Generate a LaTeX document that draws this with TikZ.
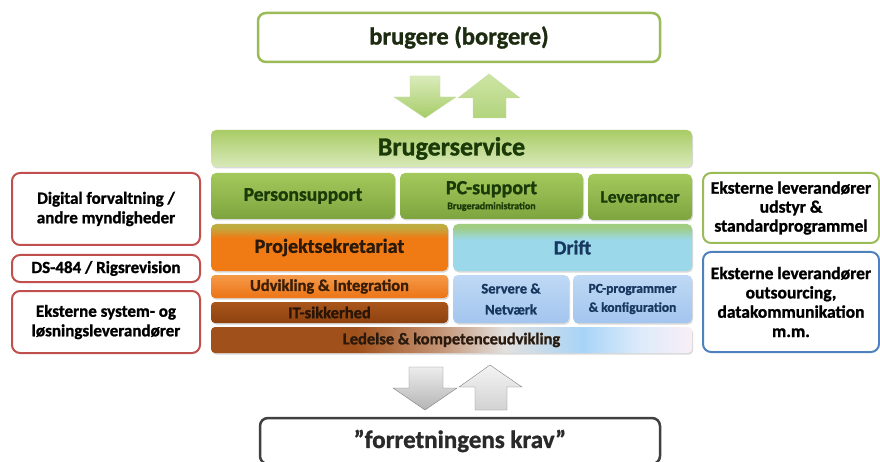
\documentclass[tikz,border=0pt]{standalone}
\usepackage{fontspec}
\setmainfont{Carlito}[BoldFeatures={FakeBold=1.2}]
\usetikzlibrary{shadows}
\definecolor{gborder}{HTML}{9BBB59}
\definecolor{gtxt}{HTML}{1A3A08}
\definecolor{orangeC}{HTML}{F07A14}
\definecolor{greenC}{HTML}{A3C95C}
\definecolor{greenD}{HTML}{7EA43F}
\definecolor{driftC}{HTML}{9AD8EA}
\definecolor{brownC}{HTML}{A0501A}
\definecolor{tanC}{HTML}{C39273}
\definecolor{greyW}{HTML}{E2E0DE}
\definecolor{ledblue}{HTML}{A8D4F8}
\definecolor{ledblue2}{HTML}{DDEBFA}
\definecolor{ledpink}{HTML}{F8EEF8}
\definecolor{navy}{HTML}{17375E}
\definecolor{redB}{HTML}{C0504D}
\definecolor{blueB}{HTML}{4F81BD}
\definecolor{darkB}{HTML}{404040}
\definecolor{topTxt}{HTML}{1D2B10}
\definecolor{kravTxt}{HTML}{2A2A2A}
\definecolor{arrGB}{HTML}{C3DDA0}
\definecolor{arrG1}{HTML}{DAEBBB}
\definecolor{arrG2}{HTML}{A6CC68}
\definecolor{arrG3}{HTML}{CDE5A4}
\definecolor{arrG4}{HTML}{B3D47E}
\definecolor{arrGrB}{HTML}{7F7F7F}
\definecolor{arrGr1}{HTML}{EDEDED}
\definecolor{arrGr2}{HTML}{B4B4B4}
\definecolor{arrGr3}{HTML}{F4F4F4}
\definecolor{arrGr4}{HTML}{D2D2D2}
\definecolor{bs1}{HTML}{A9CC66}
\definecolor{bs2}{HTML}{CBE1A0}
\definecolor{bs3}{HTML}{D8E9B9}
\definecolor{projTxt}{HTML}{2B1A0A}
\definecolor{udv1}{HTML}{F59A4A}
\definecolor{udv2}{HTML}{EC7416}
\definecolor{udvTxt}{HTML}{3A1E06}
\definecolor{it1}{HTML}{A9561C}
\definecolor{it2}{HTML}{8E420F}
\definecolor{itTxt}{HTML}{2A1505}
\definecolor{lb1}{HTML}{BFD9F5}
\definecolor{lb2}{HTML}{A3C5EE}
\definecolor{ledTxt}{HTML}{2A1A0E}
\pgfdeclareverticalshading{projsh}{100bp}{color(0bp)=(orangeC); color(60bp)=(orangeC); color(71bp)=(greenC!60!orangeC); color(100bp)=(greenC)}
\pgfdeclareverticalshading{driftsh}{100bp}{color(0bp)=(driftC); color(58bp)=(driftC); color(71bp)=(greenC!70!driftC); color(100bp)=(greenC)}
\pgfdeclarehorizontalshading{ledsh}{100bp}{color(0bp)=(brownC); color(40bp)=(brownC); color(48.6bp)=(tanC); color(55.6bp)=(greyW); color(63.6bp)=(ledblue); color(69.6bp)=(ledblue2); color(74.8bp)=(ledpink); color(100bp)=(ledpink)}
\begin{document}
\begin{tikzpicture}[x=1pt,y=-1pt,
  box/.style={rounded corners=5pt, inner sep=0pt, outer sep=0pt, align=center,
    drop shadow={opacity=0.3, shadow xshift=1pt, shadow yshift=-1.5pt}},
  outbox/.style={rounded corners=8pt, inner sep=0pt, outer sep=0pt, align=center, fill=white, line width=2pt},
  greenbox/.style={box, top color=greenC, bottom color=greenD},
]
\useasboundingbox (0,0) rectangle (880,462);

% top and bottom boxes
\node[outbox, draw=gborder, line width=2.5pt, minimum width=402, minimum height=49,
  font=\bfseries\fontsize{24.5}{28}\selectfont, text=topTxt] (brugere) at (459,37.5) {brugere (borgere)};
\node[outbox, draw=darkB, line width=2.5pt, minimum width=400, minimum height=46,
  font=\bfseries\fontsize{25}{28}\selectfont, text=kravTxt] (krav) at (460,441) {”forretningens krav”};

% green arrows
\draw[draw=arrGB, top color=arrG1, bottom color=arrG2]
  (410,76) -- (440,76) -- (440,97) -- (456,97) -- (425,118) -- (394,97) -- (410,97) -- cycle;
\draw[draw=arrGB, top color=arrG3, bottom color=arrG4]
  (489,74) -- (520,98) -- (506,98) -- (506,118) -- (473,118) -- (473,98) -- (458,98) -- cycle;
% gray arrows
\draw[draw=arrGrB, top color=arrGr1, bottom color=arrGr2]
  (409,367) -- (443,367) -- (443,388) -- (457,388) -- (425,410) -- (393,388) -- (409,388) -- cycle;
\draw[draw=arrGrB, top color=arrGr3, bottom color=arrGr4]
  (490,365) -- (522,387) -- (507,387) -- (507,410) -- (475,410) -- (475,387) -- (459,387) -- cycle;

% central stack
\node[box, top color=bs1, middle color=bs2, bottom color=bs3,
  minimum width=481, minimum height=37, font=\bfseries\fontsize{26}{30}\selectfont, text=gtxt]
  (bs) at (451.5,148.5) {Brugerservice};
\node[greenbox, minimum width=184, minimum height=46, font=\bfseries\fontsize{19.5}{22}\selectfont, text=gtxt]
  (ps) at (303,196) {Personsupport};
\node[greenbox, minimum width=183, minimum height=46, text=gtxt]
  (pc) at (491.5,196) {{\bfseries\fontsize{20}{20}\selectfont PC-support}\\[3pt]{\bfseries\fontsize{10}{10}\selectfont Brugeradministration}};
\node[greenbox, minimum width=104, minimum height=46, font=\bfseries\fontsize{17.5}{20}\selectfont, text=gtxt]
  (lev) at (640,197) {Leverancer};
\node[box, shade, shading=projsh, minimum width=237, minimum height=47, font=\bfseries\fontsize{20}{24}\selectfont, text=projTxt]
  (proj) at (329.5,247.5) {Projektsekretariat};
\node[box, shade, shading=driftsh, minimum width=239, minimum height=47, font=\bfseries\fontsize{20}{24}\selectfont, text=navy]
  (drift) at (572.5,247.5) {Drift};
\node[box, rounded corners=4pt, top color=udv1, bottom color=udv2, minimum width=237, minimum height=23,
  font=\bfseries\fontsize{16.5}{18}\selectfont, text=udvTxt]
  (udv) at (329.5,286.5) {Udvikling \& Integration};
\node[box, rounded corners=4pt, top color=it1, bottom color=it2, minimum width=237, minimum height=21,
  font=\bfseries\fontsize{16.5}{18}\selectfont, text=itTxt]
  (itsik) at (329.5,312.5) {IT-sikkerhed};
\node[box, top color=lb1, bottom color=lb2, minimum width=116, minimum height=48,
  font=\bfseries\fontsize{14.5}{21}\selectfont, text=navy]
  (srv) at (511,299) {Servere \&\\Netværk};
\node[box, top color=lb1, bottom color=lb2, minimum width=119, minimum height=48,
  font=\bfseries\fontsize{13.5}{19}\selectfont, text=navy]
  (pcp) at (632.5,299) {PC-programmer\\\& konfiguration};
\node[box, rounded corners=4pt, shade, shading=ledsh, minimum width=481, minimum height=26,
  font=\bfseries\fontsize{16.5}{18}\selectfont, text=ledTxt]
  (led) at (451.5,340) {Ledelse \& kompetenceudvikling};

% left boxes
\node[outbox, draw=redB, minimum width=188, minimum height=72, font=\bfseries\fontsize{17}{19.5}\selectfont]
  (dig) at (106,209) {Digital forvaltning /\\andre myndigheder};
\node[outbox, draw=redB, minimum width=188, minimum height=27, font=\bfseries\fontsize{17}{19.5}\selectfont]
  (ds) at (106,268.5) {DS-484 / Rigsrevision};
\node[outbox, draw=redB, minimum width=188, minimum height=62, font=\bfseries\fontsize{17}{19.5}\selectfont]
  (eks) at (106,322) {Eksterne system- og\\løsningsleverandører};

% right boxes
\node[outbox, draw=gborder, minimum width=176, minimum height=70, font=\bfseries\fontsize{17.5}{19}\selectfont]
  (eudst) at (791,208) {Eksterne leverandører\\udstyr \&\\standardprogrammel};
\node[outbox, draw=blueB, minimum width=176, minimum height=100, font=\bfseries\fontsize{17.5}{19.3}\selectfont]
  (eout) at (791,302) {Eksterne leverandører\\outsourcing,\\datakommunikation\\m.m.};
\end{tikzpicture}
\end{document}
